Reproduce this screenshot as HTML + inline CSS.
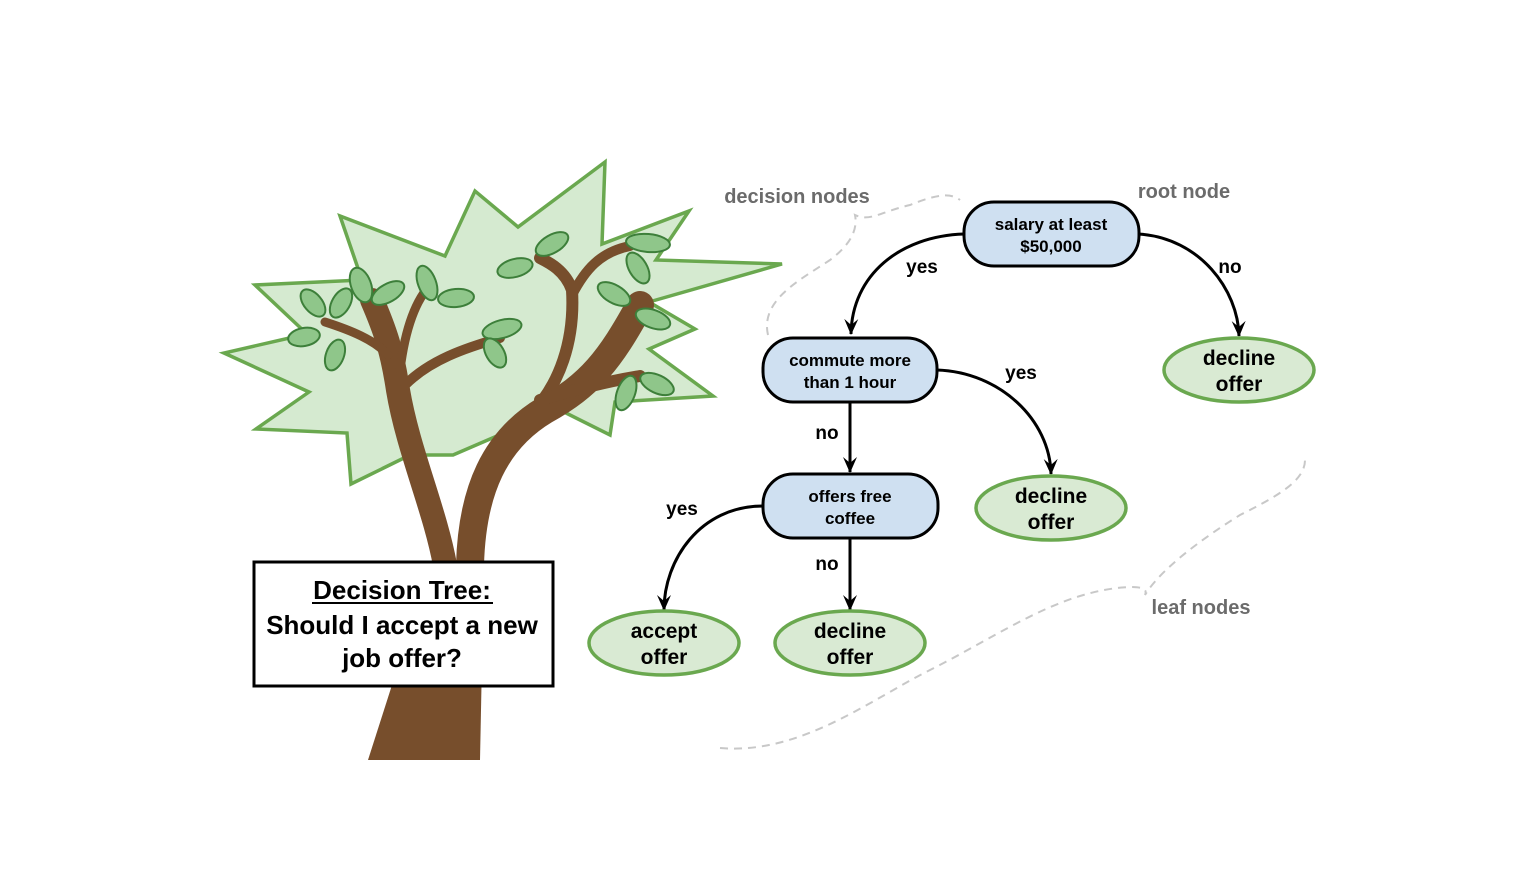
<!DOCTYPE html>
<html><head><meta charset="utf-8"><style>
html,body{margin:0;padding:0;background:#fff;}
svg{display:block;}
text{font-family:"Liberation Sans",sans-serif;}
</style></head><body>
<svg width="1520" height="874" viewBox="0 0 1520 874" xmlns="http://www.w3.org/2000/svg">
<defs>
<marker id="ar" markerWidth="18" markerHeight="16" refX="16" refY="8" orient="auto" markerUnits="userSpaceOnUse" viewBox="0 0 18 16">
<path d="M1,1 L17,8 L1,15 L7,8 Z" fill="#000"/>
</marker>
</defs>
<!-- foliage -->
<polygon points="605,162 518,227 475,191 445,256 340,216 362,280 255,285 307,334 224,353 309,392 256,429 347,433 351,484 410,455 453,455 504,433 540,400 610,435 615,402 713,396 649,349 695,329 649,302 782,264 656,260 689,211 602,244" fill="#d5ead0" stroke="#6aa84f" stroke-width="3.5" stroke-linejoin="miter"/>
<!-- trunk & branches -->
<g fill="none" stroke="#774e2c" stroke-linecap="round">
<polygon points="368,760 480,760 484,560 432,560" fill="#774e2c" stroke="none"/>
<path d="M445,565 C435,510 408,450 398,390 C392,350 385,330 372,300" stroke-width="24"/>
<path d="M470,565 C472,490 495,440 545,410 C590,385 610,360 640,305" stroke-width="28"/>
<path d="M530,415 C560,385 575,340 572,290 C565,270 548,262 540,258" stroke-width="12"/>
<path d="M572,295 C585,270 600,252 630,246" stroke-width="10"/>
<path d="M540,400 C580,388 615,380 640,376" stroke-width="12"/>
<path d="M405,385 C430,360 465,348 500,338" stroke-width="10"/>
<path d="M400,370 C405,330 415,300 432,283" stroke-width="9"/>
<path d="M388,355 C375,340 350,330 325,322" stroke-width="9"/>
</g>
<!-- leaves -->
<g fill="#8fc68a" stroke="#3d7f3a" stroke-width="2">
<ellipse cx="313" cy="303" rx="16" ry="9" transform="rotate(50 313 303)"/>
<ellipse cx="341" cy="303" rx="16" ry="9" transform="rotate(-60 341 303)"/>
<ellipse cx="304" cy="337" rx="16" ry="9" transform="rotate(-10 304 337)"/>
<ellipse cx="335" cy="355" rx="16" ry="9" transform="rotate(-70 335 355)"/>
<ellipse cx="361" cy="285" rx="18" ry="10" transform="rotate(70 361 285)"/>
<ellipse cx="388" cy="293" rx="18" ry="9" transform="rotate(-30 388 293)"/>
<ellipse cx="427" cy="283" rx="18" ry="9" transform="rotate(70 427 283)"/>
<ellipse cx="456" cy="298" rx="18" ry="9" transform="rotate(-5 456 298)"/>
<ellipse cx="502" cy="329" rx="20" ry="9" transform="rotate(-15 502 329)"/>
<ellipse cx="495" cy="353" rx="16" ry="9" transform="rotate(60 495 353)"/>
<ellipse cx="552" cy="244" rx="18" ry="9" transform="rotate(-30 552 244)"/>
<ellipse cx="515" cy="268" rx="18" ry="9" transform="rotate(-15 515 268)"/>
<ellipse cx="648" cy="243" rx="22" ry="9" transform="rotate(5 648 243)"/>
<ellipse cx="638" cy="268" rx="17" ry="9" transform="rotate(60 638 268)"/>
<ellipse cx="614" cy="294" rx="18" ry="9" transform="rotate(30 614 294)"/>
<ellipse cx="653" cy="319" rx="18" ry="9" transform="rotate(20 653 319)"/>
<ellipse cx="626" cy="393" rx="18" ry="9" transform="rotate(-70 626 393)"/>
<ellipse cx="657" cy="384" rx="18" ry="9" transform="rotate(25 657 384)"/>
</g>
<!-- title box -->
<rect x="254" y="562" width="299" height="124" fill="#fff" stroke="#000" stroke-width="3"/>
<text x="402" y="599" font-size="26" text-anchor="middle" font-weight="bold" fill="#000">Decision Tree:</text>
<line x1="312" y1="603" x2="493" y2="603" stroke="#000" stroke-width="2"/>
<text x="402" y="634" font-size="26" text-anchor="middle" font-weight="bold" fill="#000">Should I accept a new</text>
<text x="402" y="667" font-size="26" text-anchor="middle" font-weight="bold" fill="#000">job offer?</text>
<!-- dashed brackets -->
<g fill="none" stroke="#c8c8c8" stroke-width="2" stroke-dasharray="8,6">
<path d="M768,335 C760,300 800,280 830,260 C850,245 858,230 855,215 C870,222 880,212 910,205 C935,195 950,192 960,200"/>
<path d="M720,748 C800,755 870,700 930,670 C1000,635 1060,590 1130,587 C1145,587 1147,590 1145,595 C1160,570 1200,540 1240,515 C1280,495 1305,480 1305,460"/>
</g>
<text x="797" y="203" font-size="20" text-anchor="middle" font-weight="bold" fill="#6b6b6b">decision nodes</text>
<text x="1184" y="198" font-size="20" text-anchor="middle" font-weight="bold" fill="#6b6b6b">root node</text>
<text x="1201" y="614" font-size="20" text-anchor="middle" font-weight="bold" fill="#6b6b6b">leaf nodes</text>
<!-- connectors -->
<g fill="none" stroke="#000" stroke-width="3" marker-end="url(#ar)">
<path d="M964,234 C900,236 852,275 851,334"/>
<path d="M1139,234 C1200,238 1238,290 1239,336"/>
<path d="M937,370 C1000,372 1050,420 1051,474"/>
<path d="M850,402 L850,472"/>
<path d="M763,506 C700,506 664,560 664,610"/>
<path d="M850,538 L850,610"/>
</g>
<g font-size="19" font-weight="bold" fill="#000" text-anchor="middle">
<text x="922" y="273">yes</text>
<text x="1230" y="273">no</text>
<text x="1021" y="379">yes</text>
<text x="827" y="439">no</text>
<text x="682" y="515">yes</text>
<text x="827" y="570">no</text>
</g>
<!-- decision nodes -->
<g fill="#cfe0f1" stroke="#000" stroke-width="3">
<rect x="964" y="202" width="175" height="64" rx="30"/>
<rect x="763" y="338" width="174" height="64" rx="30"/>
<rect x="763" y="474" width="175" height="64" rx="30"/>
</g>
<g font-size="17" font-weight="bold" fill="#000" text-anchor="middle">
<text x="1051" y="230">salary at least</text>
<text x="1051" y="252">$50,000</text>
<text x="850" y="366">commute more</text>
<text x="850" y="388">than 1 hour</text>
<text x="850" y="502">offers free</text>
<text x="850" y="524">coffee</text>
</g>
<!-- leaf nodes -->
<g fill="#d9ead3" stroke="#6aa84f" stroke-width="3.5">
<ellipse cx="1239" cy="370" rx="75" ry="32"/>
<ellipse cx="1051" cy="508" rx="75" ry="32"/>
<ellipse cx="664" cy="643" rx="75" ry="32"/>
<ellipse cx="850" cy="643" rx="75" ry="32"/>
</g>
<g font-size="21" font-weight="bold" fill="#000" text-anchor="middle">
<text x="1239" y="365">decline</text>
<text x="1239" y="391">offer</text>
<text x="1051" y="503">decline</text>
<text x="1051" y="529">offer</text>
<text x="664" y="638">accept</text>
<text x="664" y="664">offer</text>
<text x="850" y="638">decline</text>
<text x="850" y="664">offer</text>
</g>
</svg>
</body></html>
